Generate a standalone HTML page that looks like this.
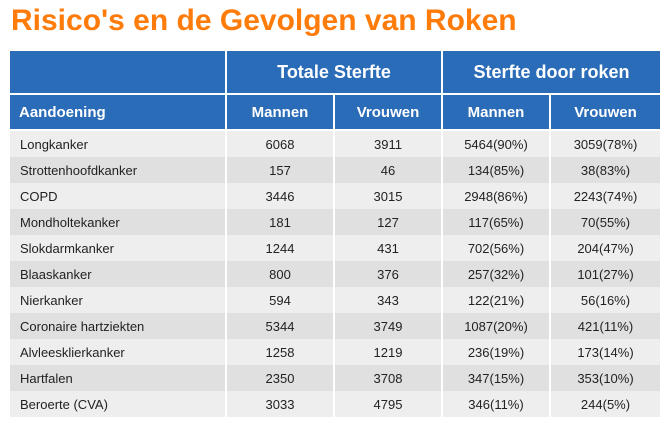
<!DOCTYPE html>
<html><head><meta charset="utf-8"><style>
body{margin:0;width:666px;height:426px;background:#fff;font-family:"Liberation Sans","DejaVu Sans",sans-serif;overflow:hidden}
h1{position:absolute;left:11px;top:4px;margin:0;font-size:30px;font-weight:bold;color:#ff7b0a}
table{position:absolute;left:10px;top:51px;border-collapse:separate;border-spacing:0;table-layout:fixed;width:650px}
td,th{border:0;border-right:2px solid #fff;padding:0}
td:last-child,th:last-child{border-right:0}
th{background:#2b6cb8;color:#fff;font-weight:bold;border-bottom:2px solid #fff}
.h1 th{height:42px;font-size:18px}
.h2 th{height:34px;font-size:15px}
.h2 th.l{text-align:left;padding-left:9px}
td{height:26px;font-size:13px;color:#222;text-align:center}
td.l{text-align:left;padding-left:10px}
tr.a td{background:#eeeeee}
tr.b td{background:#e0e0e0}
</style></head><body>
<h1>Risico's en de Gevolgen van Roken</h1>
<table>
<colgroup><col style="width:217px"><col style="width:108px"><col style="width:108px"><col style="width:108px"><col style="width:109px"></colgroup>
<tr class="h1"><th></th><th colspan="2">Totale Sterfte</th><th colspan="2">Sterfte door roken</th></tr>
<tr class="h2"><th class="l">Aandoening</th><th>Mannen</th><th>Vrouwen</th><th>Mannen</th><th>Vrouwen</th></tr>
<tr class="a"><td class="l">Longkanker</td><td>6068</td><td>3911</td><td>5464(90%)</td><td>3059(78%)</td></tr>
<tr class="b"><td class="l">Strottenhoofdkanker</td><td>157</td><td>46</td><td>134(85%)</td><td>38(83%)</td></tr>
<tr class="a"><td class="l">COPD</td><td>3446</td><td>3015</td><td>2948(86%)</td><td>2243(74%)</td></tr>
<tr class="b"><td class="l">Mondholtekanker</td><td>181</td><td>127</td><td>117(65%)</td><td>70(55%)</td></tr>
<tr class="a"><td class="l">Slokdarmkanker</td><td>1244</td><td>431</td><td>702(56%)</td><td>204(47%)</td></tr>
<tr class="b"><td class="l">Blaaskanker</td><td>800</td><td>376</td><td>257(32%)</td><td>101(27%)</td></tr>
<tr class="a"><td class="l">Nierkanker</td><td>594</td><td>343</td><td>122(21%)</td><td>56(16%)</td></tr>
<tr class="b"><td class="l">Coronaire hartziekten</td><td>5344</td><td>3749</td><td>1087(20%)</td><td>421(11%)</td></tr>
<tr class="a"><td class="l">Alvleesklierkanker</td><td>1258</td><td>1219</td><td>236(19%)</td><td>173(14%)</td></tr>
<tr class="b"><td class="l">Hartfalen</td><td>2350</td><td>3708</td><td>347(15%)</td><td>353(10%)</td></tr>
<tr class="a"><td class="l">Beroerte (CVA)</td><td>3033</td><td>4795</td><td>346(11%)</td><td>244(5%)</td></tr>
</table>
</body></html>
